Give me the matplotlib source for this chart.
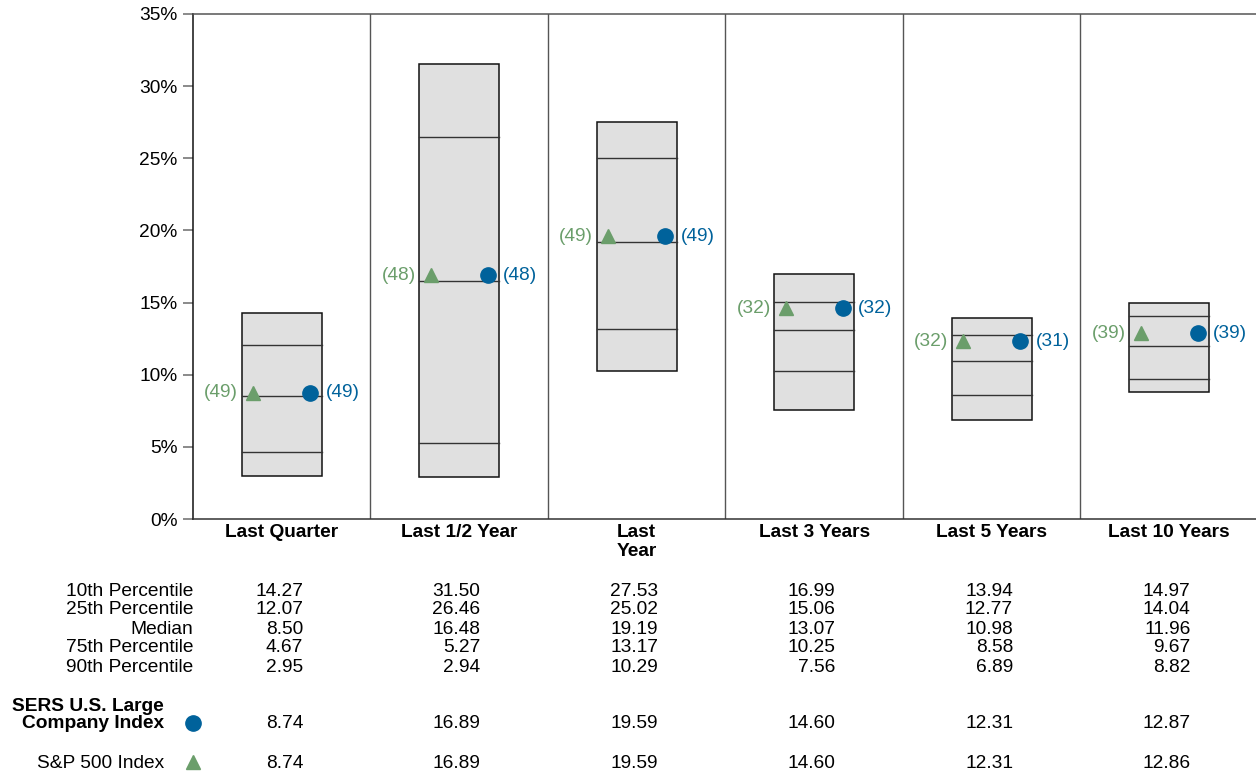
import matplotlib
matplotlib.use("Agg")
import matplotlib.pyplot as plt
import matplotlib.transforms as mtransforms
from matplotlib.patches import Rectangle
from matplotlib.lines import Line2D

plt.rcParams['font.family'] = ['Liberation Sans', 'DejaVu Sans']

categories = ["Last Quarter", "Last 1/2 Year", "Last\nYear", "Last 3 Years", "Last 5 Years", "Last 10 Years"]
p10 = [14.27, 31.50, 27.53, 16.99, 13.94, 14.97]
p25 = [12.07, 26.46, 25.02, 15.06, 12.77, 14.04]
med = [8.50, 16.48, 19.19, 13.07, 10.98, 11.96]
p75 = [4.67, 5.27, 13.17, 10.25, 8.58, 9.67]
p90 = [2.95, 2.94, 10.29, 7.56, 6.89, 8.82]
sers = [8.74, 16.89, 19.59, 14.60, 12.31, 12.87]
sp500 = [8.74, 16.89, 19.59, 14.60, 12.31, 12.86]
sers_rank = [49, 48, 49, 32, 31, 39]
sp_rank = [49, 48, 49, 32, 32, 39]
row_labels = ["10th Percentile", "25th Percentile", "Median", "75th Percentile", "90th Percentile"]
yticks = [0, 5, 10, 15, 20, 25, 30, 35]

BLUE = "#00629b"
GREEN = "#6b9e6b"
FS = 13.8

W, H = 1256, 773
fig = plt.figure(figsize=(W / 100, H / 100), dpi=100)
ax = fig.add_axes([193 / W, 1 - 519 / H, 1065 / W, (519 - 14) / H])
ax.set_xlim(0, 6)
ax.set_ylim(0, 35)

bw = 0.45
off = 0.16
for i in range(6):
    c = i + 0.5
    ax.add_patch(Rectangle((c - bw / 2, p90[i]), bw, p10[i] - p90[i],
                           facecolor="#e0e0e0", edgecolor="#111111", linewidth=1.1, zorder=2))
    for v in (p25[i], med[i], p75[i]):
        ax.plot([c - bw / 2, c + bw / 2], [v, v], color="#333333", linewidth=1.0, zorder=3)
    ax.plot(c + off, sers[i], 'o', color=BLUE, markersize=11, zorder=5)
    ax.plot(c - off, sp500[i], '^', color=GREEN, markersize=9.5, zorder=5)
    ax.text(c + bw / 2 + 0.022, sers[i], f"({sers_rank[i]})", color=BLUE, fontsize=FS,
            ha='left', va='center')
    ax.text(c - bw / 2 - 0.02, sp500[i], f"({sp_rank[i]})", color=GREEN, fontsize=FS,
            ha='right', va='center')

for x in range(1, 6):
    ax.axvline(x, color="#555555", linewidth=1.0, zorder=1)

ax.set_yticks(yticks)
ax.set_yticklabels([f"{t}%" for t in yticks], fontsize=FS)
ax.set_xticks([])
ax.tick_params(axis='y', length=7, width=1.2, color="#777777", pad=4)
ax.spines['right'].set_visible(False)
ax.spines['top'].set_color("#555555")
ax.spines['left'].set_color("#111111")
ax.spines['bottom'].set_color("#333333")
for s in ax.spines.values():
    s.set_linewidth(1.1)

trans = mtransforms.blended_transform_factory(ax.transData, fig.transFigure)
def fy(py):
    return 1 - py / H

for i, cat in enumerate(categories):
    ax.text(i + 0.5, fy(524), cat, transform=trans, ha='center', va='top',
            fontsize=FS, fontweight='bold', linespacing=1.12)

row_y = [591, 610, 629, 648, 667]
rows = [p10, p25, med, p75, p90]
label_x = 193 / W
for lab, vals, py in zip(row_labels, rows, row_y):
    fig.text(label_x, fy(py), lab, ha='right', va='center', fontsize=FS)
    for i, v in enumerate(vals):
        ax.text(i + 0.5 + 0.12, fy(py), f"{v:.2f}", transform=trans, ha='right',
                va='center', fontsize=FS)

fig.text(164 / W, fy(715), "SERS U.S. Large\nCompany Index", ha='right', va='center',
         fontsize=FS, fontweight='bold', linespacing=0.98)
fig.add_artist(Line2D([193 / W], [fy(723)], marker='o', color=BLUE, markersize=11,
                      linestyle='none', transform=fig.transFigure))
for i, v in enumerate(sers):
    ax.text(i + 0.5 + 0.12, fy(724), f"{v:.2f}", transform=trans, ha='right',
            va='center', fontsize=FS)

fig.text(164 / W, fy(763), "S&P 500 Index", ha='right', va='center', fontsize=FS)
fig.add_artist(Line2D([193 / W], [fy(762)], marker='^', color=GREEN, markersize=9.5,
                      linestyle='none', transform=fig.transFigure))
for i, v in enumerate(sp500):
    ax.text(i + 0.5 + 0.12, fy(763), f"{v:.2f}", transform=trans, ha='right',
            va='center', fontsize=FS)

fig.savefig("out.png", dpi=100)
